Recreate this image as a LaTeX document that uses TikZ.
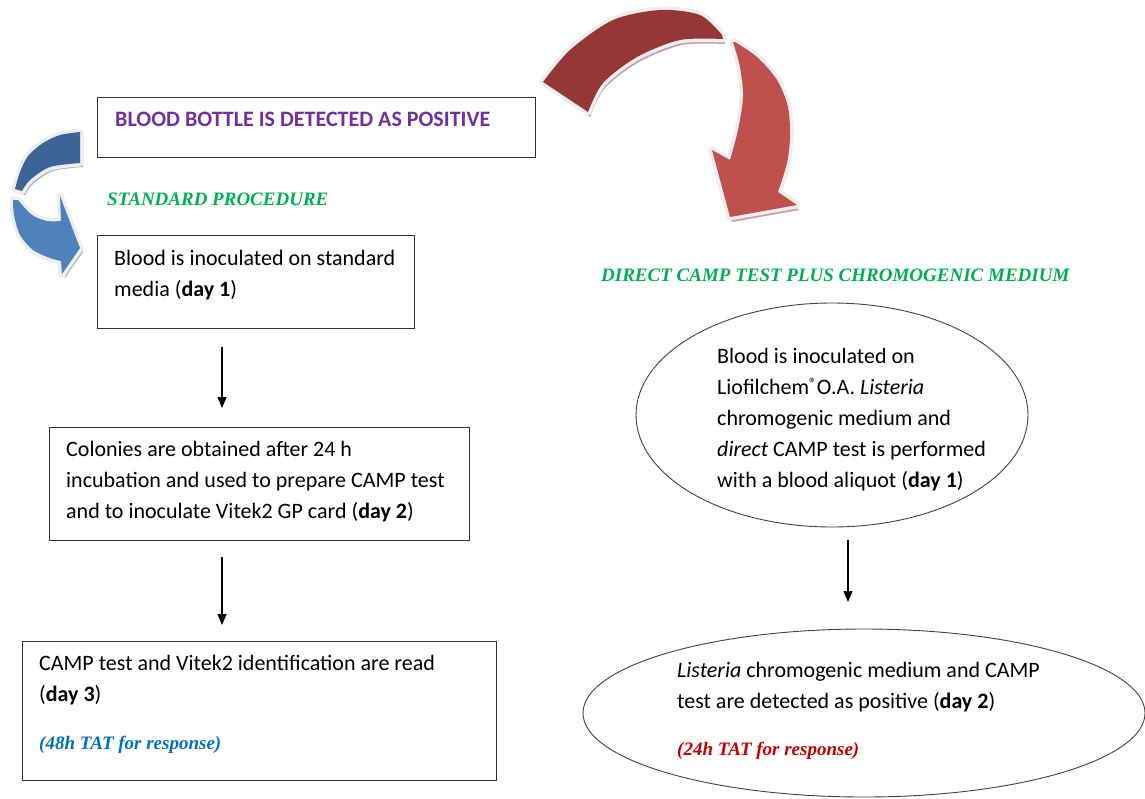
\documentclass[tikz,border=0pt]{standalone}
\usepackage{fontspec}
\setmainfont{Carlito}
\newfontfamily\tnr{Liberation Serif}
\usetikzlibrary{arrows.meta,shapes.geometric}
\definecolor{ttlgreen}{HTML}{00B050}
\definecolor{hdpurple}{HTML}{7030A0}
\definecolor{tatblue}{HTML}{0070C0}
\definecolor{tatred}{HTML}{C00000}
\definecolor{rdark}{HTML}{953735}
\definecolor{rlight}{HTML}{C0504D}
\definecolor{rshadow}{HTML}{C4A0A0}
\definecolor{bdark}{HTML}{3C6496}
\definecolor{blight}{HTML}{4F81BD}
\definecolor{bshadow}{HTML}{A9B4C2}
\definecolor{rim}{HTML}{EEEEEE}
\tikzset{
  box/.style={draw=black!80, line width=1.2pt, inner sep=0pt, anchor=north west},
  oval/.style={ellipse, draw=black!75, line width=0.9pt, inner sep=0pt},
  txt/.style={anchor=base west, inner sep=0pt, align=left, font=\fontsize{22}{31}\selectfont},
  ttl/.style={anchor=base west, inner sep=0pt, font=\tnr\bfseries\itshape\fontsize{19}{24}\selectfont},
  flow/.style={-{Triangle[length=11pt,width=9pt]}, line width=1.2pt},
  rimline/.style={draw=rim, line width=7pt, line join=round},
}
\begin{document}
\begin{tikzpicture}[x=1pt,y=-1pt]
\useasboundingbox (0,0) rectangle (1145,798);
% ---------- big red curved arrow ----------
\def\rdarkpath{plot[smooth] coordinates {(543,82) (570,50) (613,20) (660,10) (700,15) (722,35)} -- plot[smooth] coordinates {(723,39) (680,40) (637,57) (603,83) (588,112)} -- cycle}
\def\rlightpath{plot[smooth] coordinates {(733,42) (740,67) (743,97) (738,130) (730,160)} -- (712,150) -- (730,217) -- (797,205) -- plot[smooth] coordinates {(778,192) (787,163) (790,137) (788,107) (777,80) (757,57) (735,42)} -- cycle}
\fill[rshadow,shift={(2,5)}] \rdarkpath;
\fill[rshadow,shift={(2,5)}] \rlightpath;
\path[rimline] \rdarkpath;
\path[rimline] \rlightpath;
\fill[rdark] \rdarkpath;
\fill[rlight] \rlightpath;
% ---------- blue curved arrow ----------
\def\bdarkpath{plot[smooth] coordinates {(80,132) (60,135) (43,143) (28,156) (20,172) (15,189)} -- plot[smooth] coordinates {(22,191) (30,180) (50,167) (80,163)} -- cycle}
\def\blightpath{plot[smooth] coordinates {(13,200) (14,215) (20,235) (33,250) (50,258) (61,261)} -- (62,274) -- (80,248) -- (60,196) -- plot[smooth] coordinates {(61,221) (47,221) (32,215) (18,200)} -- cycle}
\fill[bshadow,shift={(3,4)}] \bdarkpath;
\fill[bshadow,shift={(3,4)}] \blightpath;
\path[rimline] \bdarkpath;
\path[rimline] \blightpath;
\fill[bdark] \bdarkpath;
\fill[blight] \blightpath;
% ---------- boxes ----------
\node[box, minimum width=438pt, minimum height=60pt] (b1) at (97,97) {};
\node[box, minimum width=317pt, minimum height=93pt] (b2) at (97,235) {};
\node[box, minimum width=420pt, minimum height=113pt] (b3) at (49,427) {};
\node[box, minimum width=474pt, minimum height=139pt] (b4) at (22,641) {};
\node[oval, minimum width=392pt, minimum height=224pt] (e1) at (832,415) {};
\node[oval, minimum width=562pt, minimum height=168pt] (e2) at (864,713) {};
% ---------- texts (anchor = baseline of last line) ----------
\node[txt, text=hdpurple, font=\fontsize{22}{31}\selectfont\bfseries] (t1) at (115,126) {BLOOD BOTTLE IS DETECTED AS POSITIVE};
\node[ttl, text=ttlgreen] (s1) at (107,205) {STANDARD PROCEDURE};
\node[ttl, text=ttlgreen] (s2) at (601,281) {DIRECT CAMP TEST PLUS CHROMOGENIC MEDIUM};
\node[txt] (t2) at (114,296) {Blood is inoculated on standard\\media (\textbf{day 1})};
\node[txt] (t3) at (66,518) {Colonies are obtained after 24 h\\incubation and used to prepare CAMP test\\and to inoculate Vitek2 GP card (\textbf{day 2})};
\node[txt] (t4) at (39,701) {CAMP test and Vitek2 identification are read\\(\textbf{day 3})};
\node[ttl, text=tatblue] (t5) at (39,749) {(48h TAT for response)};
\node[txt] (t6) at (717,487) {Blood is inoculated on\\Liofilchem\raisebox{6pt}{\fontsize{15}{15}\selectfont ®}O.A. \textit{Listeria}\\chromogenic medium and\\\textit{direct} CAMP test is performed\\with a blood aliquot (\textbf{day 1})};
\node[txt] (t7) at (677,708) {\textit{Listeria} chromogenic medium and CAMP\\test are detected as positive (\textbf{day 2})};
\node[ttl, text=tatred] (t8) at (677,755) {(24h TAT for response)};
% ---------- connectors ----------
\coordinate (a1s) at (222,347); \coordinate (a1e) at (222,408);
\coordinate (a2s) at (222,557); \coordinate (a2e) at (222,625);
\coordinate (a3s) at (848,540); \coordinate (a3e) at (848,602);
\draw[flow] (a1s) -- (a1e);
\draw[flow] (a2s) -- (a2e);
\draw[flow] (a3s) -- (a3e);
\end{tikzpicture}
\end{document}
